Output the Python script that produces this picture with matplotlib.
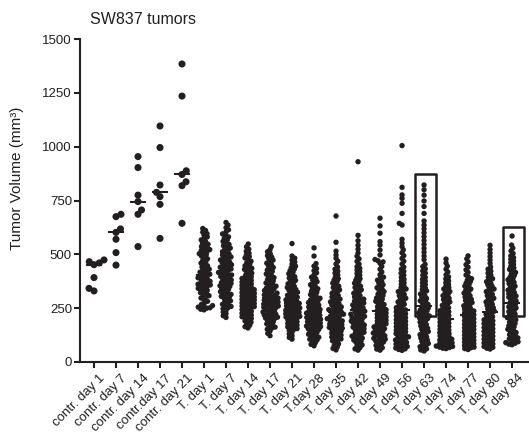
import numpy as np
import matplotlib
matplotlib.use("Agg")
import matplotlib.pyplot as plt
import matplotlib.transforms as mtransforms
from matplotlib.patches import Rectangle

plt.rcParams['font.family'] = ['Liberation Sans', 'DejaVu Sans']

categories = ["contr. day 1", "contr. day 7", "contr. day 14", "contr.day 17", "contr. day 21",
              "T. day 1", "T. day 7", "T. day 14", "T. day 17", "T. day 21", "T.day 28",
              "T. day 35", "T. day 42", "T. day 49", "T. day 56", "T. day 63", "T. day 74",
              "T. day 77", "T. day 80", "T. day 84"]

# tumor volumes (mm3)
contr_d1 = [474, 466, 460, 452, 392, 342, 330]
contr_d7 = [686, 675, 618, 602, 570, 508, 450]
contr_d14 = [954, 903, 775, 745, 706, 686, 536]
contr_d17 = [1096, 996, 822, 788, 768, 732, 574]
contr_d21 = [1384, 1235, 888, 871, 837, 819, 644]

t_d1 = [242, 245, 250, 252, 255, 258, 262, 268, 275, 282, 290, 297, 303, 308, 313, 318, 322,
        328, 333, 338, 342, 348, 352, 355, 358, 361, 364, 367, 371, 375, 379, 383, 387, 391,
        395, 398, 403, 408, 412, 417, 421, 426, 431, 436, 441, 447, 453, 459, 466, 472, 479,
        485, 492, 498, 503, 508, 513, 518, 522, 527, 532, 537, 542, 547, 553, 560, 567, 574,
        581, 589, 596, 603, 611, 620]
t_d7 = [207, 215, 224, 232, 240, 247, 252, 258, 263, 268, 274, 279, 284, 290, 296, 301, 305,
        309, 314, 318, 323, 327, 332, 337, 341, 346, 351, 354, 358, 362, 365, 369, 373, 377,
        381, 385, 389, 393, 397, 401, 404, 408, 412, 416, 420, 424, 428, 432, 436, 440, 444,
        448, 452, 456, 461, 465, 470, 474, 479, 483, 488, 492, 497, 502, 507, 512, 518, 523,
        529, 535, 540, 546, 553, 560, 567, 574, 581, 588, 595, 604, 614, 624, 636, 648]
t_d14 = [158, 164, 171, 178, 185, 191, 197, 202, 206, 210, 214, 218, 222, 226, 230, 235, 239,
         243, 247, 251, 254, 257, 260, 263, 266, 269, 272, 275, 279, 282, 285, 288, 291, 294,
         297, 300, 303, 306, 310, 313, 316, 319, 323, 326, 329, 333, 336, 340, 343, 347, 351,
         355, 359, 363, 367, 371, 375, 379, 383, 388, 392, 396, 402, 407, 413, 418, 424, 430,
         435, 441, 447, 454, 461, 468, 476, 483, 490, 497, 505, 514, 524, 535, 548]
t_d17 = [122, 133, 144, 152, 157, 162, 167, 172, 177, 182, 187, 192, 197, 201, 204, 208, 211,
         215, 218, 222, 225, 229, 232, 236, 240, 243, 247, 251, 254, 257, 260, 263, 266, 269,
         272, 275, 278, 281, 284, 287, 290, 293, 297, 301, 305, 309, 312, 316, 320, 324, 328,
         332, 336, 340, 344, 348, 352, 357, 362, 367, 372, 377, 382, 387, 392, 397, 403, 409,
         415, 421, 427, 433, 439, 446, 452, 459, 466, 473, 480, 487, 494, 503, 512, 522, 536]
t_d21 = [106, 114, 122, 130, 138, 146, 151, 155, 159, 163, 167, 171, 175, 179, 183, 187, 191,
         196, 200, 203, 206, 209, 212, 215, 218, 221, 224, 228, 231, 234, 237, 240, 244, 247,
         251, 254, 258, 261, 265, 268, 272, 275, 279, 282, 286, 289, 293, 297, 301, 306, 310,
         315, 319, 324, 328, 333, 337, 342, 346, 352, 357, 363, 368, 374, 379, 385, 390, 396,
         403, 410, 417, 424, 431, 438, 445, 455, 464, 473, 482, 492, 550]
t_d28 = [75, 82, 89, 96, 102, 106, 111, 115, 120, 124, 129, 133, 138, 142, 147, 151, 154, 157,
         161, 164, 167, 171, 174, 177, 181, 184, 187, 191, 194, 198, 201, 204, 207, 211, 214,
         217, 221, 224, 227, 231, 234, 237, 241, 244, 248, 252, 256, 260, 264, 268, 272, 276,
         280, 284, 288, 292, 296, 302, 307, 313, 318, 324, 329, 335, 340, 346, 352, 359, 366,
         373, 380, 387, 394, 404, 414, 424, 434, 445, 457, 492, 530]
t_d35 = [56, 63, 70, 77, 84, 91, 98, 102, 107, 111, 116, 120, 125, 129, 134, 138, 143, 147,
         151, 154, 157, 161, 164, 167, 171, 174, 177, 181, 184, 187, 191, 194, 198, 201, 205,
         208, 212, 215, 219, 222, 226, 229, 233, 236, 240, 243, 247, 252, 256, 261, 265, 270,
         274, 279, 283, 288, 292, 297, 302, 308, 313, 319, 324, 330, 335, 341, 346, 352, 359,
         366, 373, 380, 387, 394, 404, 413, 422, 431, 441, 455, 468, 482, 497, 515, 556, 678]
t_d42 = [55, 61, 67, 73, 79, 85, 91, 97, 102, 107, 111, 116, 120, 125, 129, 134, 138, 143,
         147, 151, 155, 158, 162, 165, 169, 172, 176, 179, 183, 186, 190, 193, 197, 201, 205,
         208, 212, 215, 219, 222, 226, 229, 233, 236, 240, 243, 247, 252, 256, 261, 265, 270,
         274, 279, 283, 288, 292, 297, 302, 308, 313, 319, 324, 330, 335, 341, 346, 352, 359,
         366, 373, 380, 387, 394, 403, 411, 419, 427, 435, 443, 455, 467, 479, 491, 506, 524,
         542, 563, 588, 930]
t_d49 = [55, 60, 66, 71, 77, 82, 88, 93, 98, 102, 106, 110, 114, 118, 122, 126, 130, 134, 138,
         142, 147, 151, 155, 159, 163, 167, 170, 174, 178, 182, 186, 190, 194, 198, 202, 206,
         210, 214, 218, 222, 227, 231, 235, 239, 243, 247, 252, 257, 262, 267, 272, 277, 282,
         287, 292, 297, 303, 309, 315, 321, 327, 333, 339, 345, 352, 359, 366, 373, 380, 387,
         394, 405, 418, 431, 444, 458, 465, 470, 476, 497, 520, 543, 559, 598, 632, 668]
t_d56 = [54, 58, 61, 65, 69, 72, 76, 80, 83, 87, 91, 94, 98, 102, 106, 110, 113, 117, 121, 125,
         129, 132, 136, 140, 144, 148, 152, 156, 160, 164, 168, 172, 177, 181, 185, 189, 193,
         197, 202, 206, 211, 215, 220, 224, 229, 233, 238, 242, 247, 252, 257, 263, 268, 274,
         279, 285, 290, 296, 302, 308, 314, 320, 327, 333, 339, 345, 352, 360, 368, 376, 384,
         393, 403, 412, 421, 431, 441, 455, 468, 481, 494, 507, 521, 536, 552, 570, 636, 644,
         690, 737, 760, 776, 811, 1005]
t_d63 = [51, 56, 61, 66, 71, 76, 81, 86, 91, 96, 102, 107, 112, 117, 122, 127, 132, 137, 142,
         147, 152, 157, 163, 168, 174, 179, 185, 190, 196, 201, 205, 210, 214, 219, 223, 228,
         232, 237, 241, 246, 251, 256, 262, 267, 273, 278, 284, 289, 295, 302, 309, 316, 323,
         330, 337, 344, 352, 360, 368, 376, 384, 393, 403, 413, 423, 433, 443, 454, 475, 492,
         510, 528, 546, 564, 582, 600, 618, 636, 655, 690, 722, 748, 775, 800, 822]
t_d74 = [62, 64, 67, 69, 72, 74, 77, 80, 83, 86, 89, 92, 95, 98, 102, 106, 110, 113, 117, 121,
         125, 129, 132, 136, 140, 144, 148, 152, 156, 160, 164, 168, 172, 177, 181, 185, 189,
         193, 197, 202, 206, 211, 215, 220, 224, 229, 233, 238, 242, 247, 252, 257, 263, 268,
         274, 279, 285, 290, 296, 302, 308, 314, 320, 327, 333, 339, 345, 352, 360, 368, 377,
         386, 395, 405, 418, 431, 445, 460, 478]
t_d77 = [58, 62, 66, 69, 73, 77, 81, 85, 89, 93, 97, 101, 105, 109, 113, 117, 121, 125, 129,
         133, 138, 142, 146, 151, 155, 159, 163, 167, 171, 175, 179, 183, 188, 192, 196, 201,
         205, 210, 214, 219, 223, 228, 232, 237, 241, 246, 251, 256, 261, 266, 271, 276, 281,
         286, 291, 296, 302, 308, 314, 320, 327, 333, 339, 345, 352, 359, 366, 373, 380, 387,
         394, 404, 416, 428, 440, 452, 465, 479, 493]
t_d80 = [60, 64, 68, 72, 76, 80, 84, 88, 93, 98, 102, 106, 111, 115, 120, 124, 129, 133, 138,
         142, 147, 151, 155, 160, 164, 169, 173, 178, 182, 187, 191, 196, 201, 206, 211, 216,
         221, 226, 231, 236, 241, 246, 252, 257, 263, 268, 274, 279, 285, 290, 296, 302, 308,
         314, 320, 327, 333, 339, 345, 352, 359, 366, 373, 380, 387, 394, 404, 413, 422, 431,
         441, 458, 474, 490, 506, 523, 542]
t_d84 = [80, 83, 87, 90, 94, 98, 102, 107, 112, 117, 122, 127, 132, 137, 142, 147, 152, 157,
         163, 168, 174, 179, 185, 190, 196, 201, 206, 212, 217, 223, 228, 234, 239, 245, 251,
         256, 262, 267, 273, 278, 284, 289, 295, 301, 306, 312, 317, 323, 328, 334, 339, 345,
         352, 358, 364, 370, 376, 382, 388, 394, 402, 409, 416, 423, 430, 437, 444, 453, 461,
         469, 477, 485, 493, 504, 516, 529, 543, 585]

groups = [contr_d1, contr_d7, contr_d14, contr_d17, contr_d21,
          t_d1, t_d7, t_d14, t_d17, t_d21, t_d28, t_d35, t_d42, t_d49, t_d56,
          t_d63, t_d74, t_d77, t_d80, t_d84]

# boxes drawn around two groups: (group index, low, high)
boxes = [(15, 214, 873), (19, 214, 627)]

ink = '#231f20'
W, H = 529, 437
fig = plt.figure(figsize=(W / 100, H / 100), dpi=100)
ax = fig.add_axes([80 / W, 1 - 362 / H, 1 - 80 / W, 323 / H])
xmin, xmax = -0.636, 19.77
ax.set_xlim(xmin, xmax)
ax.set_ylim(0, 1500)

px_x = ax.bbox.width / (xmax - xmin)
px_y = ax.bbox.height / 1500.0


def swarm(vals, d):
    # simple beeswarm in pixel space, returns x offsets in category units
    placed = []
    offs = {}
    steps = [0.0]
    for k in range(1, 200):
        steps += [k * 0.25, -k * 0.25]
    order = np.argsort(vals)
    for n, j in enumerate(order):
        y = vals[j] * px_y
        near = [(px, py) for px, py in placed if abs(py - y) < d]
        for s in steps:
            dx = s if n % 2 == 0 else -s
            if all((dx - px) ** 2 + (y - py) ** 2 >= d * d for px, py in near):
                break
        placed.append((dx, y))
        offs[j] = dx / px_x
    return np.array([offs[j] for j in range(len(vals))])


for i, vals in enumerate(groups):
    vals = np.array(vals, dtype=float)
    med = np.median(vals)
    if i < 5:
        dx = swarm(vals, 5.5)
        ax.scatter(i + dx, vals, s=26, color=ink, edgecolors='none', zorder=3, clip_on=False)
        ax.plot([i - 0.3, i + 0.3], [med, med], color=ink, lw=1.5, zorder=4)
    else:
        dx = swarm(vals, 3.2)
        ax.scatter(i + dx, vals, s=15, color=ink, edgecolors='none', zorder=3, clip_on=False)
        ax.plot([i - 0.32, i + 0.32], [med, med], color=ink, lw=1.5, zorder=2)

for gi, lo, hi in boxes:
    ax.add_patch(Rectangle((gi + 0.05 - 0.48, lo), 0.96, hi - lo, fill=False,
                           lw=1.8, edgecolor=ink, joinstyle='round', zorder=5))

for side in ['top', 'right']:
    ax.spines[side].set_visible(False)
for side in ['left', 'bottom']:
    ax.spines[side].set_linewidth(1.5)
    ax.spines[side].set_color(ink)

ax.set_yticks([0, 250, 500, 750, 1000, 1250, 1500])
ax.set_xticks(range(len(categories)))
ax.set_xticklabels(categories, rotation=45, ha='right', va='top', rotation_mode='anchor')
ax.tick_params(axis='both', length=4.3, width=1.5, color=ink, labelcolor=ink, labelsize=9.5)
ax.tick_params(axis='y', pad=1.5)
ax.tick_params(axis='x', pad=3, labelsize=9.5)
shift = mtransforms.ScaledTranslation(5 / 100, 0, fig.dpi_scale_trans)
for lab in ax.get_xticklabels():
    lab.set_transform(lab.get_transform() + shift)

fig.text(143.5 / W, 1 - 20 / H, "SW837 tumors", ha='center', va='center', fontsize=11.5, color=ink)
fig.text(17 / W, 1 - 178 / H, "Tumor Volume (mm³)", rotation=90, ha='center', va='center',
         fontsize=11, color=ink)

fig.savefig('out.png', dpi=100)
